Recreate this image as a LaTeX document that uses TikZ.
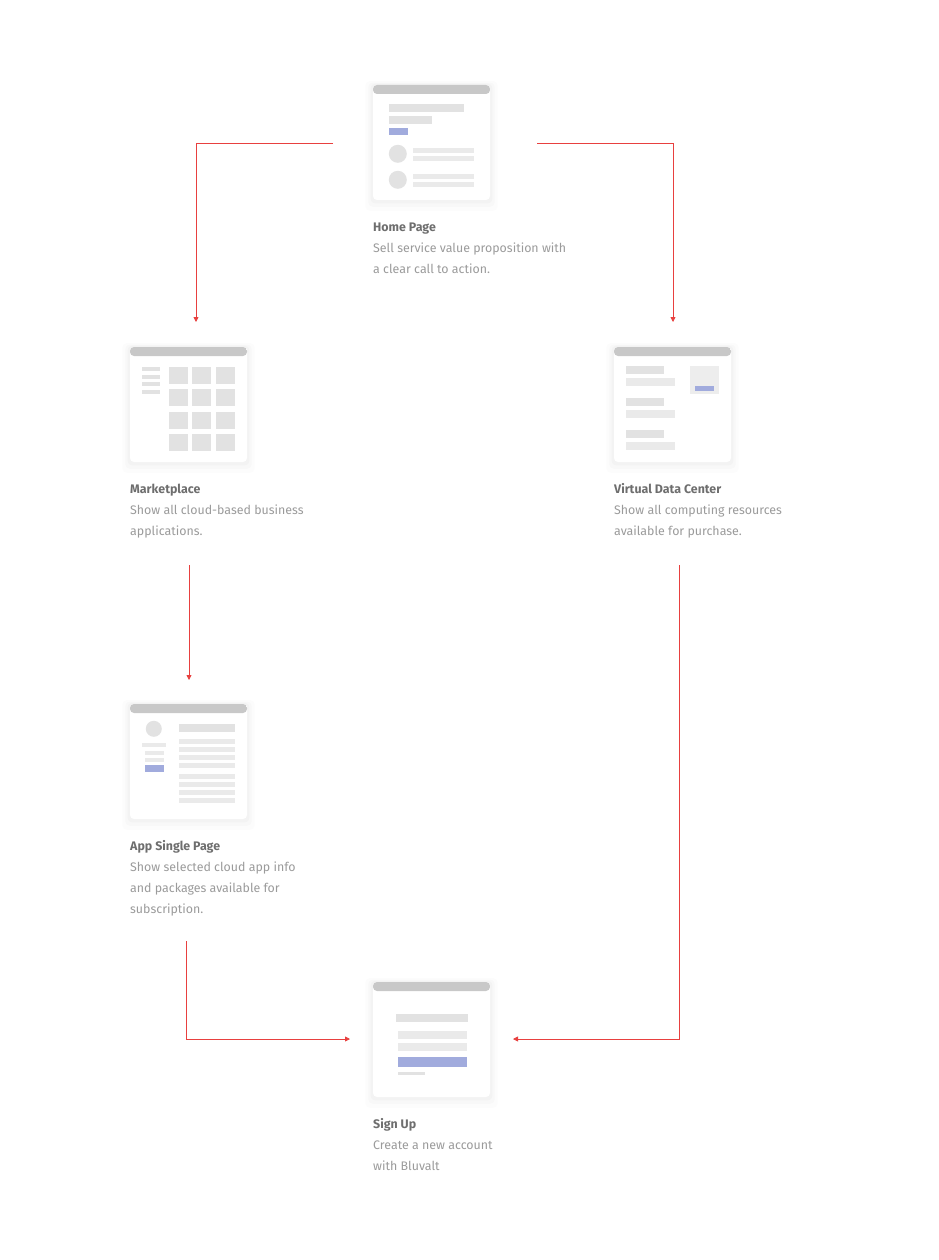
\documentclass[tikz,border=0pt]{standalone}
\usepackage{fontspec}
\setmainfont{Fira Sans}
\usepackage{tikz}
\usetikzlibrary{arrows.meta, positioning, shadows}

\definecolor{flowred}{HTML}{E8403F}
\definecolor{barGray}{HTML}{C8C8C8}
\definecolor{blockGray}{HTML}{E2E2E2}
\definecolor{lineGray}{HTML}{EAEAEA}
\definecolor{boxGray}{HTML}{EDEDED}
\definecolor{ctaBlue}{HTML}{A1ABDD}
\definecolor{titleGray}{HTML}{6E6E6E}
\definecolor{descGray}{HTML}{9B9B9B}

\begin{document}
\begin{tikzpicture}[x=1pt, y=-1pt,
                card/.style={fill=white, rounded corners=4pt, inner sep=0pt,
                  minimum width=117pt, minimum height=115pt,
                  general shadow={fill=black, opacity=0.012, shadow scale=1.13, shadow yshift=-3pt},
                  general shadow={fill=black, opacity=0.016, shadow scale=1.08, shadow yshift=-2pt},
                  general shadow={fill=black, opacity=0.02, shadow scale=1.04, shadow yshift=-1pt},
                  path picture={\fill[barGray] (path picture bounding box.north west) rectangle
                    ([yshift=-9pt]path picture bounding box.north east);}},
                pagetext/.style={anchor=base west, align=left, inner sep=0pt, text=descGray,
                  font=\fontsize{12.4}{21}\selectfont},
                flow/.style={draw=flowred, line width=0.8pt, -{Triangle[length=5pt, width=5pt]}}]
                \fill[white] (0,0) rectangle (938,1260);
                \useasboundingbox (0,0) rectangle (938,1260);

                % Home page
                \node[card] (home) at (431.5,142.5) {};
                \begin{scope}[shift={(home.north west)}]
                  \fill[blockGray] (16,19) rectangle (91,27);
                  \fill[blockGray] (16,31) rectangle (59,39);
                  \fill[ctaBlue] (16,43) rectangle (35,50);
                  \fill[blockGray] (25,69) circle (9);
                  \fill[lineGray] (40,63) rectangle (101,68);
                  \fill[lineGray] (40,71) rectangle (101,76);
                  \fill[blockGray] (25,95) circle (9);
                  \fill[lineGray] (40,89) rectangle (101,94);
                  \fill[lineGray] (40,97) rectangle (101,102);
                \end{scope}
                % (base = last line)
                \node[pagetext] (homeText) at (373,273)
                  {\textcolor{titleGray}{\bfseries Home Page}\\Sell service value proposition with\\a clear call to action.};

                % Marketplace
                \node[card] (market) at (188.5,404.5) {};
                \begin{scope}[shift={(market.north west)}]
                  \foreach \y in {20,28,35,43}
                    \fill[blockGray] (12,\y) rectangle (30,\y+4);
                  \foreach \x in {39,62.5,86}
                    \foreach \y in {20,42.5,65,87.5}
                      \fill[blockGray] (\x,\y) rectangle (\x+19,\y+17);
                \end{scope}
                \node[pagetext] (marketText) at (130,535)
                  {\textcolor{titleGray}{\bfseries Marketplace}\\Show all cloud-based business\\applications.};

                % Virtual data center
                \node[card] (vdc) at (672.5,404.5) {};
                \begin{scope}[shift={(vdc.north west)}]
                  \foreach \y in {19,51,83}{
                    \fill[blockGray] (12,\y) rectangle (50,\y+8);
                    \fill[lineGray] (12,\y+12) rectangle (61,\y+20);
                  }
                  \fill[boxGray] (76,19) rectangle (105,47);
                  \fill[ctaBlue] (81,39) rectangle (100,44);
                \end{scope}
                \node[pagetext] (vdcText) at (614,535)
                  {\textcolor{titleGray}{\bfseries Virtual Data Center}\\Show all computing resources\\available for purchase.};

                % App single page
                \node[card] (app) at (188.5,761.5) {};
                \begin{scope}[shift={(app.north west)}]
                  \fill[blockGray] (24,25) circle (8);
                  \fill[lineGray] (12,39) rectangle (36,43);
                  \fill[lineGray] (15,47) rectangle (34,51);
                  \fill[lineGray] (15,54) rectangle (34,58);
                  \fill[ctaBlue] (15,61) rectangle (34,68);
                  \fill[blockGray] (49,20) rectangle (105,28);
                  \foreach \y in {35,43,51,59,70,78,86,94}
                    \fill[lineGray] (49,\y) rectangle (105,\y+5);
                \end{scope}
                \node[pagetext] (appText) at (130,913)
                  {\textcolor{titleGray}{\bfseries App Single Page}\\Show selected cloud app info\\and packages available for\\subscription.};

                % Sign up
                \node[card] (signup) at (431.5,1039.5) {};
                \begin{scope}[shift={(signup.north west)}]
                  \fill[blockGray] (23,32) rectangle (95,40);
                  \fill[lineGray] (25,49) rectangle (94,57);
                  \fill[lineGray] (25,61) rectangle (94,69);
                  \fill[ctaBlue] (25,75) rectangle (94,85);
                  \fill[blockGray] (25,90) rectangle (52,93);
                \end{scope}
                \node[pagetext] (signupText) at (373,1170)
                  {\textcolor{titleGray}{\bfseries Sign Up}\\Create a new account\\with Bluvalt};

                % Flow ends
                \coordinate (homeL) at (333,143);
                \coordinate (homeR) at (537,143);
                \coordinate (marketIn) at (196,322);
                \coordinate (vdcIn) at (673,322);
                \coordinate (marketOut) at (189,565);
                \coordinate (appIn) at (189,680);
                \coordinate (appOut) at (186,941);
                \coordinate (vdcOut) at (679,565);
                \coordinate (signupL) at (350,1039);
                \coordinate (signupR) at (513,1039);

                % Edges
                \draw[flow] (homeL) -| (marketIn);
                \draw[flow] (homeR) -| (vdcIn);
                \draw[flow] (marketOut) -- (appIn);
                \draw[flow] (appOut) |- (signupL);
                \draw[flow] (vdcOut) |- (signupR);
\end{tikzpicture}
\end{document}
